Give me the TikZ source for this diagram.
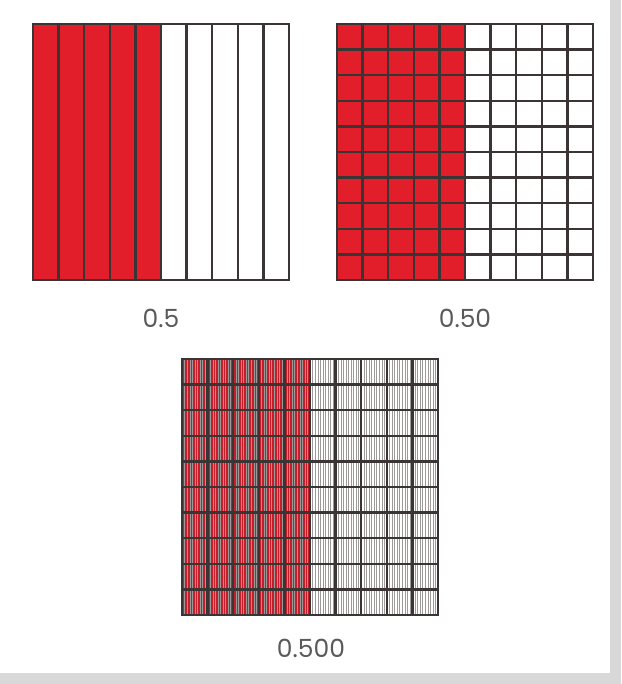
\documentclass[tikz,border=0pt]{standalone}
\usepackage{fontspec}
\setmainfont{Poppins}
\usetikzlibrary{positioning}
\definecolor{partred}{HTML}{E31E2B}
\definecolor{partdeep}{HTML}{C41E2A}
\definecolor{gridline}{HTML}{3B3434}
\definecolor{frame}{HTML}{D8D8D8}
\definecolor{labeltext}{HTML}{5A5A5A}
\tikzset{
  tenthline/.style={draw=gridline, line width=1.2pt},
  milline/.style={draw=gridline!50, line width=0.18pt},
  outline/.style={draw=gridline, line width=1.2pt},
  valuelabel/.style={font=\fontsize{12.5}{15}\selectfont, text=labeltext, inner sep=0pt}
}

\begin{document}
\begin{tikzpicture}[x=0.5pt,y=-0.5pt]
  % page and shadow edge
  \fill[frame] (0,0) rectangle (621,684);
  \fill[white] (0,0) rectangle (610,673);
  \useasboundingbox (0,0) rectangle (621,684);

  % tenths
  \begin{scope}[shift={(33,24)}]
    \fill[partred] (0,0) rectangle (128,256);
    \foreach \i in {1,...,9}
      \draw[tenthline] (25.6*\i,0) -- (25.6*\i,256);
    \draw[outline] (0,0) rectangle (256,256);
  \end{scope}
  \node[valuelabel] (tenths) at (161,318) {0.5};

  % hundredths
  \begin{scope}[shift={(337,24)}]
    \fill[partred] (0,0) rectangle (128,256);
    \foreach \i in {1,...,9} {
      \draw[tenthline] (25.6*\i,0) -- (25.6*\i,256);
      \draw[tenthline] (0,25.6*\i) -- (256,25.6*\i);
    }
    \draw[outline] (0,0) rectangle (256,256);
  \end{scope}
  \node[valuelabel] (hundredths) at (465,318) {0.50};

  % thousandths
  \begin{scope}[shift={(182,359)}]
    \fill[partdeep] (0,0) rectangle (128,256);
    \foreach \j in {1,...,99}
      \draw[milline] (2.56*\j,0) -- (2.56*\j,256);
    \foreach \i in {1,...,9} {
      \draw[tenthline] (25.6*\i,0) -- (25.6*\i,256);
      \draw[tenthline] (0,25.6*\i) -- (256,25.6*\i);
    }
    \draw[outline] (0,0) rectangle (256,256);
  \end{scope}
  \node[valuelabel] (thousandths) at (311,648) {0.500};
\end{tikzpicture}
\end{document}
